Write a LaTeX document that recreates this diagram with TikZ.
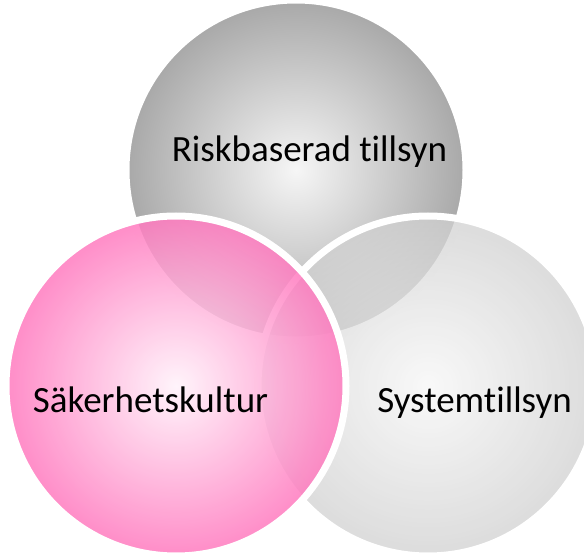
\documentclass[tikz,border=0pt]{standalone}
\usepackage{fontspec}
\setmainfont{Carlito}[RawFeature={-liga,-clig,-dlig}]
\definecolor{topin}{HTML}{F6F6F6}
\definecolor{topout}{HTML}{A8A8A8}
\definecolor{rightin}{HTML}{F6F6F6}
\definecolor{rightout}{HTML}{D0D0D0}
\definecolor{pinkin}{HTML}{FFF2FA}
\definecolor{pinkout}{HTML}{FF78BE}
\tikzset{
  bubble/.style={circle, minimum size=340pt, inner sep=0pt, draw=white, line width=7pt, shading=radial},
  label/.style={inner sep=0pt, anchor=base, font=\fontsize{37}{40}\selectfont, text=black}
}
\begin{document}
\begin{tikzpicture}[x=1pt, y=-1pt]
\useasboundingbox (0,0) rectangle (584,556);
\node[bubble, inner color=topin, outer color=topout] (top) at (296,170) {};
\node[bubble, inner color=rightin, outer color=rightout, fill opacity=0.75] (right) at (428,386) {};
\node[bubble, inner color=pinkin, outer color=pinkout, fill opacity=0.85] (left) at (176,386) {};
\node[label] (ttop) at (309.5,162) {Riskbaserad tillsyn};
\node[label] (tleft) at (150.5,412) {Säkerhetskultur};
\node[label] (tright) at (474.5,412) {Systemtillsyn};
\end{tikzpicture}
\end{document}
